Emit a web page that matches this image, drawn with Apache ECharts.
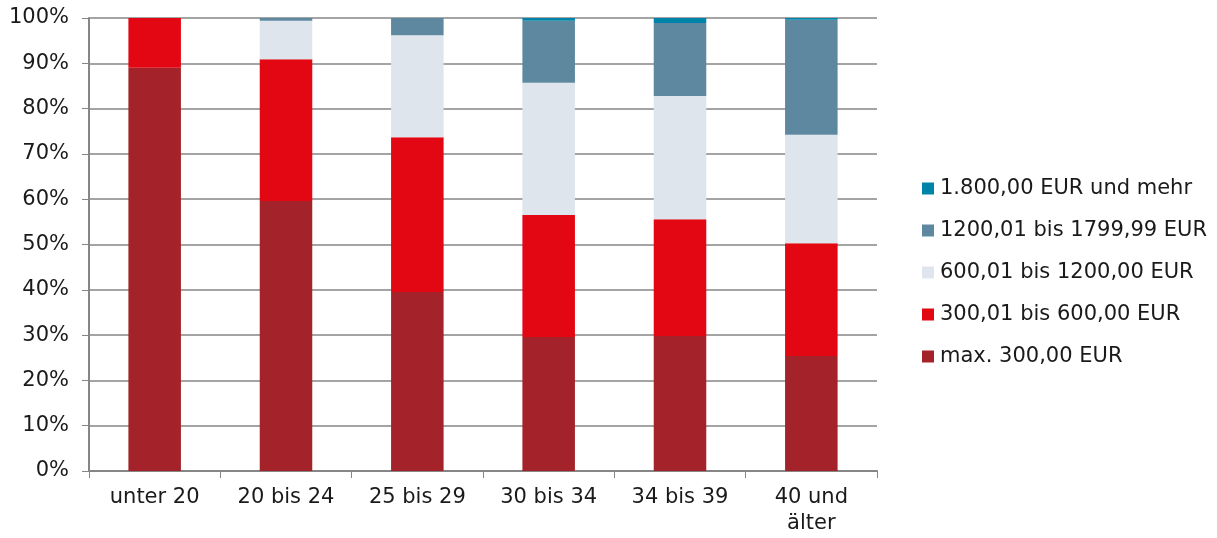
<!DOCTYPE html>
<html><head><meta charset="utf-8">
<script src="https://cdn.jsdelivr.net/npm/echarts@6/dist/echarts.min.js"></script>
<style>html,body{margin:0;padding:0;background:#fff}#c{width:1217px;height:538px}</style>
</head><body><div id="c"></div>
<script>
const categories = ["unter 20", "20 bis 24", "25 bis 29", "30 bis 34", "34 bis 39", "40 und\nälter"];
const yTicks = [0, 10, 20, 30, 40, 50, 60, 70, 80, 90, 100];
const seriesNames = ["max. 300,00 EUR", "300,01 bis 600,00 EUR", "600,01 bis 1200,00 EUR", "1200,01 bis 1799,99 EUR", "1.800,00 EUR und mehr"];
const max300 = [89.0, 59.6, 39.5, 29.6, 29.8, 25.4];
const r300_600 = [11.0, 31.3, 34.2, 26.9, 25.8, 24.9];
const r600_1200 = [0, 8.5, 22.5, 29.2, 27.2, 23.9];
const r1200_1800 = [0, 0.6, 3.8, 13.7, 16.1, 25.4];
const r1800plus = [0, 0, 0, 0.6, 1.1, 0.4];
const colors = ["#A4232A", "#E30613", "#DEE5EC", "#5E889F", "#0083A9"];
const values = [max300, r300_600, r600_1200, r1200_1800, r1800plus];

const font = "'DejaVu Sans', Verdana, sans-serif";
const fs = 21;
const chart = echarts.init(document.getElementById('c'), null, {renderer: 'canvas'});
chart.setOption({
  animation: false,
  backgroundColor: '#fff',
  grid: {left: 89, right: 340, top: 18, bottom: 67, containLabel: false},
  legend: {
    data: seriesNames.slice().reverse(),
    orient: 'vertical',
    left: 917, top: 173,
    itemWidth: 12, itemHeight: 12, itemGap: 21,
    icon: 'rect',
    textStyle: {fontFamily: font, fontSize: fs, lineHeight: 21, color: '#1a1a1a', padding: [0, 0, 0, 1]}
  },
  xAxis: {
    type: 'category', data: categories,
    axisLine: {lineStyle: {color: '#868686', width: 2}},
    axisTick: {show: true, length: 7, lineStyle: {color: '#868686', width: 1}},
    axisLabel: {fontFamily: font, fontSize: fs, color: '#1a1a1a', margin: 14, lineHeight: 26}
  },
  yAxis: {
    type: 'value', min: 0, max: 100, interval: 10,
    axisLine: {show: true, lineStyle: {color: '#868686', width: 2}},
    axisTick: {show: true, length: 7, lineStyle: {color: '#868686'}},
    splitLine: {lineStyle: {color: '#868686', width: 1.5}},
    axisLabel: {fontFamily: font, fontSize: fs, color: '#1a1a1a', margin: 20,
      formatter: v => yTicks.includes(v) ? v + '%' : ''}
  },
  series: seriesNames.map((n, i) => ({
    name: n, type: 'bar', stack: 'total', barWidth: '40%',
    data: values[i],
    itemStyle: {color: colors[i]}
  }))
});
</script></body></html>
